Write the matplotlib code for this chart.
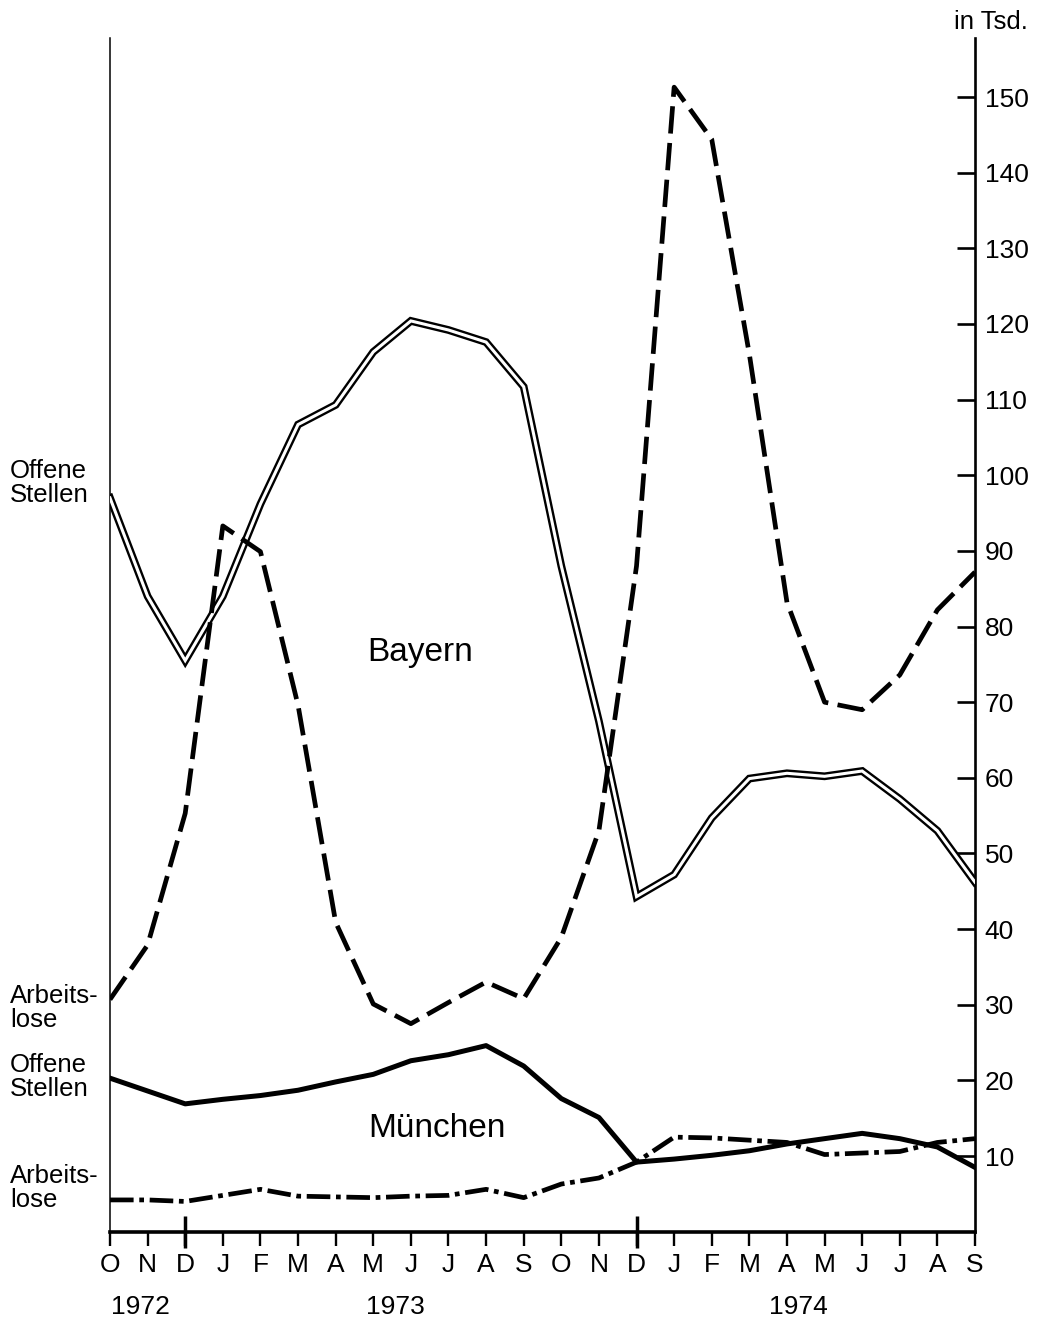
import matplotlib
matplotlib.use('Agg')
import matplotlib.pyplot as plt
import matplotlib.transforms as mtransforms

plt.rcParams['font.family'] = ['Liberation Sans', 'DejaVu Sans']

months = ['O', 'N', 'D', 'J', 'F', 'M', 'A', 'M', 'J', 'J', 'A', 'S',
          'O', 'N', 'D', 'J', 'F', 'M', 'A', 'M', 'J', 'J', 'A', 'S']
years = ['1972', '1973', '1974']
year_pos = [0.8, 7.6, 18.3]
year_marks = [2, 14]

# Bayern, in Tsd.
bayern_offen = [97, 84, 75.5, 84, 96.2, 106.7, 109.3, 116.3, 120.4, 119.2, 117.6, 111.7,
                88, 67.5, 44.3, 47.2, 54.7, 59.9, 60.6, 60.2, 60.9, 57.2, 53, 46.2]
bayern_arbeitslos = [30.7, 37.9, 55.3, 93.3, 89.9, 69.6, 40.9, 30.1, 27.5, 30.3, 33, 30.8,
                     38.9, 53, 88, 151.3, 144.4, 116, 83.2, 70, 69, 73.6, 82.2, 87.2]

# München, in Tsd.
muenchen_offen = [20.3, 18.6, 16.9, 17.5, 18, 18.7, 19.8, 20.8, 22.6, 23.4, 24.6, 21.9,
                  17.6, 15.1, 9.2, 9.6, 10.1, 10.7, 11.6, 12.3, 13.0, 12.3, 11.2, 8.5]
muenchen_arbeitslos = [4.2, 4.2, 4.0, 4.8, 5.6, 4.7, 4.6, 4.5, 4.7, 4.8, 5.6, 4.5,
                       6.3, 7.1, 9.2, 12.5, 12.4, 12.1, 11.8, 10.2, 10.4, 10.6, 11.8, 12.3]

y_ticks = list(range(10, 160, 10))

fig = plt.figure(figsize=(10.47, 13.19), dpi=100)
ax = fig.add_axes([110 / 1047, 1 - 1231.7 / 1319, 865 / 1047, (1231.7 - 38) / 1319])

x = list(range(len(months)))

# double line for Bayern offene Stellen
ax.plot(x, bayern_offen, color='black', lw=5.6, solid_joinstyle='miter', zorder=3)
ax.plot(x, bayern_offen, color='white', lw=2.2, solid_joinstyle='miter', zorder=3)

ax.plot(x, bayern_arbeitslos, color='black', lw=3.4, dashes=(5.8, 2.0), zorder=4)
ax.plot(x, muenchen_offen, color='black', lw=3.6, zorder=4)
ax.plot(x, muenchen_arbeitslos, color='black', lw=3.4, dashes=(5.0, 1.2, 1.0, 1.2), zorder=4)

ax.set_xlim(0, 23)
ax.set_ylim(0, 157.8)

ax.spines['top'].set_visible(False)
ax.spines['left'].set_linewidth(1.1)
ax.spines['right'].set_linewidth(1.9)
ax.spines['bottom'].set_linewidth(2.6)

ax.yaxis.tick_right()
ax.set_yticks(y_ticks)
ax.tick_params(axis='y', direction='in', length=13, width=1.9, pad=7, labelsize=19)

ax.set_xticks(x, months)
ax.tick_params(axis='x', which='major', direction='out', length=10, width=1.7, pad=5, labelsize=19)
ax.xaxis.remove_overlapping_locs = False
ax.set_xticks(year_marks, minor=True)
ax.tick_params(axis='x', which='minor', direction='inout', length=23, width=2.5)

for label, pos in zip(years, year_pos):
    ax.annotate(label, xy=(pos, 0), xycoords=('data', 'axes fraction'), xytext=(0, -54),
                textcoords='offset points', ha='center', va='center', fontsize=19)

fig.text(991 / 1047, 1 - 22 / 1319, 'in Tsd.', ha='center', va='center', fontsize=18.5)

trans = mtransforms.blended_transform_factory(fig.transFigure, ax.transData)
side_labels = [('Offene\nStellen', 99), ('Arbeits-\nlose', 29.6),
               ('Offene\nStellen', 20.4), ('Arbeits-\nlose', 5.8)]
for text, yv in side_labels:
    ax.text(10 / 1047, yv, text, transform=trans, ha='left', va='center',
            fontsize=18.5, linespacing=1.0)

ax.text(8.24, 76.6, 'Bayern', ha='center', va='center', fontsize=24)
ax.text(8.7, 13.7, 'München', ha='center', va='center', fontsize=24)

fig.savefig('out.png', dpi=100)
